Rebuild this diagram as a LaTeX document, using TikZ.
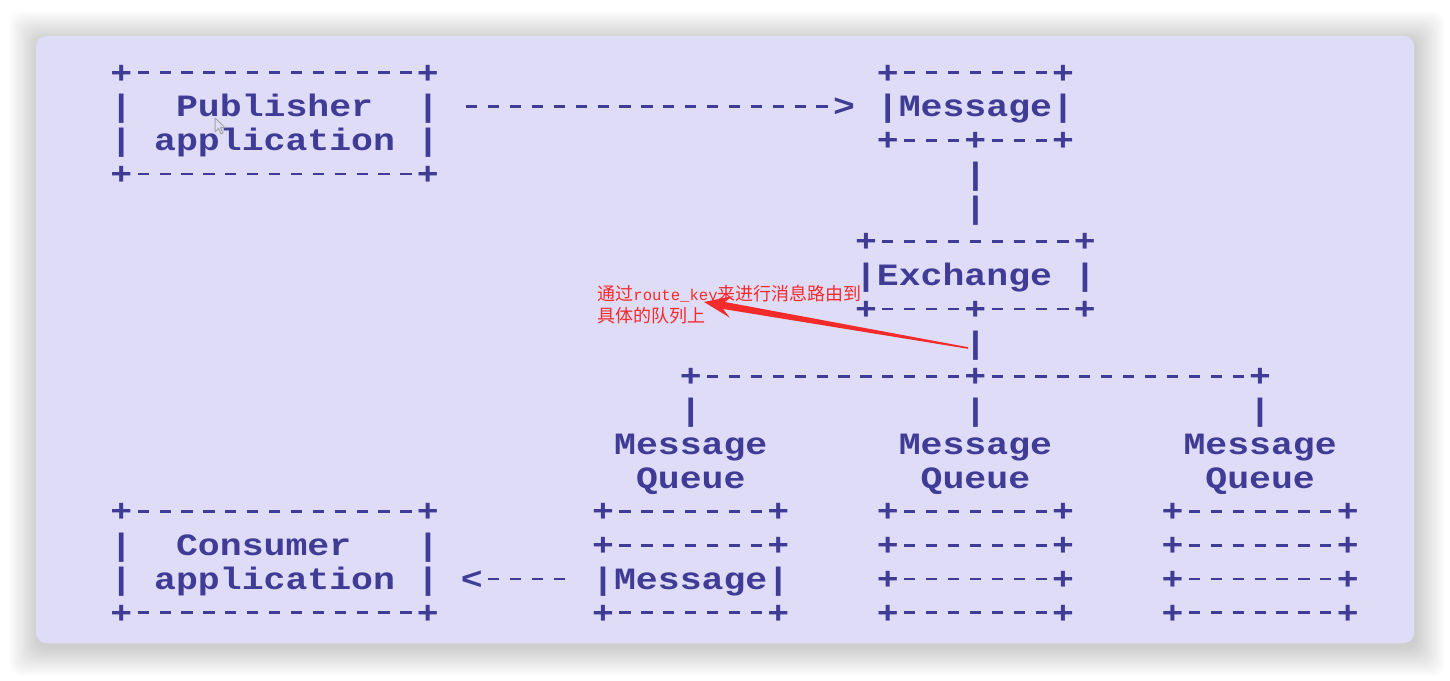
\documentclass[tikz,border=0pt]{standalone}
\usepackage{fontspec}
\setmonofont{Liberation Mono}[FakeStretch=1.177]
\newfontfamily\cjkfont{Noto Sans CJK SC}
\newfontfamily\annomono{Liberation Mono}
\usetikzlibrary{calc}
\definecolor{panel}{HTML}{DFDCF7}
\definecolor{ink}{HTML}{403C96}
\definecolor{annored}{HTML}{F52A2A}
\newcommand\Dsh{\makebox[\fontcharwd\font`\-][c]{\rule[0.29em]{5.6pt}{1.35pt}}}
\ExplSyntaxOn
\cs_new:Npn \Dn #1 { \prg_replicate:nn {#1} {\Dsh} }
\ExplSyntaxOff
\tikzset{
  ascii/.style={font=\ttfamily\bfseries\fontsize{15.5}{15.5}\selectfont, text=ink,
    inner sep=0pt, anchor=west, text height=0.6em, text depth=0pt},
  annotext/.style={font=\fontsize{9}{9}\selectfont\cjkfont, text=annored, inner sep=0pt, anchor=west},
}
\newcommand\asc[4]{\node[ascii] (#1) at ({110+21.9*(#2)},{77+33.75*(#3)}) {#4};}
\begin{document}
\begin{tikzpicture}[x=0.5pt,y=-0.5pt]
\useasboundingbox (0,0) rectangle (1450,680);
\fill[white] (0,0) rectangle (1450,680);
% soft shadow
\foreach \i in {1,...,16} {
  \fill[black, opacity=0.012, rounded corners=6pt]
    ({36-\i*1.8+2},{36-\i*1.8+4}) rectangle ({1414+\i*1.8+2},{643+\i*1.8+4});
}
% panel
\fill[panel, rounded corners=5pt] (36,36) rectangle (1414,643);

% Publisher box
\asc{pubT}{0}{0}{+\Dn{13}+}
\asc{pubL1}{0}{1}{|}
\asc{pubTxtA}{3}{1}{Publisher}
\asc{pubR1}{14}{1}{|}
\asc{pubL2}{0}{2}{|}
\asc{pubTxtB}{2}{2}{application}
\asc{pubR2}{14}{2}{|}
\asc{pubB}{0}{3}{+\Dn{13}+}

% arrow publisher -> message
\asc{pubArrow}{16}{1}{\Dn{17}>}

% Message box (top)
\asc{msgT}{35}{0}{+\Dn{7}+}
\asc{msgM}{35}{1}{|Message|}
\asc{msgB}{35}{2}{+\Dn{3}+\Dn{3}+}
\asc{vA}{39}{3}{|}
\asc{vB}{39}{4}{|}

% Exchange box
\asc{exT}{34}{5}{+\Dn{9}+}
\asc{exL}{34}{6}{|Exchange}
\asc{exR}{44}{6}{|}
\asc{exB}{34}{7}{+\Dn{4}+\Dn{4}+}
\asc{vC}{39}{8}{|}

% split
\asc{split}{26}{9}{+\Dn{12}+\Dn{12}+}
\asc{vQa}{26}{10}{|}
\asc{vQb}{39}{10}{|}
\asc{vQc}{52}{10}{|}
\asc{qAm}{23}{11}{Message}
\asc{qBm}{36}{11}{Message}
\asc{qCm}{49}{11}{Message}
\asc{qAq}{24}{12}{Queue}
\asc{qBq}{37}{12}{Queue}
\asc{qCq}{50}{12}{Queue}

% queue stacks
\asc{qA1}{22}{13}{+\Dn{7}+}
\asc{qB1}{35}{13}{+\Dn{7}+}
\asc{qC1}{48}{13}{+\Dn{7}+}
\asc{qA2}{22}{14}{+\Dn{7}+}
\asc{qB2}{35}{14}{+\Dn{7}+}
\asc{qC2}{48}{14}{+\Dn{7}+}
\asc{qA3}{22}{15}{|Message|}
\asc{qB3}{35}{15}{+\Dn{7}+}
\asc{qC3}{48}{15}{+\Dn{7}+}
\asc{qA4}{22}{16}{+\Dn{7}+}
\asc{qB4}{35}{16}{+\Dn{7}+}
\asc{qC4}{48}{16}{+\Dn{7}+}

% Consumer box
\asc{conT}{0}{13}{+\Dn{13}+}
\asc{conL1}{0}{14}{|}
\asc{conTxtA}{3}{14}{Consumer}
\asc{conR1}{14}{14}{|}
\asc{conL2}{0}{15}{|}
\asc{conTxtB}{2}{15}{application}
\asc{conR2}{14}{15}{|}
\asc{conB}{0}{16}{+\Dn{13}+}
\asc{conArrow}{16}{15}{<\Dn{4}}

% annotation
\node[annotext] (annoA) at (597,294) {通过{\annomono\fontsize{7.8}{7.8}\selectfont route\_key}来进行消息路由到};
\node[annotext] (annoB) at (597,316) {具体的队列上};

% red tapered arrow
\coordinate (tail) at (968,348);
\coordinate (tip) at (704,302);
\fill[annored]
  (tip)
  -- ($(tip)!14pt!(tail)!5.5pt!-90:(tail)$)
  -- ($(tip)!10pt!(tail)!1.8pt!-90:(tail)$)
  -- ($(tail)!0.4pt!90:(tip)$)
  -- ($(tail)!0.4pt!-90:(tip)$)
  -- ($(tip)!10pt!(tail)!1.8pt!90:(tail)$)
  -- ($(tip)!14pt!(tail)!5.5pt!90:(tail)$)
  -- cycle;

% mouse cursor
\draw[gray!70, line width=0.5pt, fill=panel, line join=round, shift={(215,118)}]
  (0,0) -- (0,14) -- (3.5,10.5) -- (6,16) -- (8,15) -- (5.5,9.7) -- (10,9.7) -- cycle;
\end{tikzpicture}
\end{document}
